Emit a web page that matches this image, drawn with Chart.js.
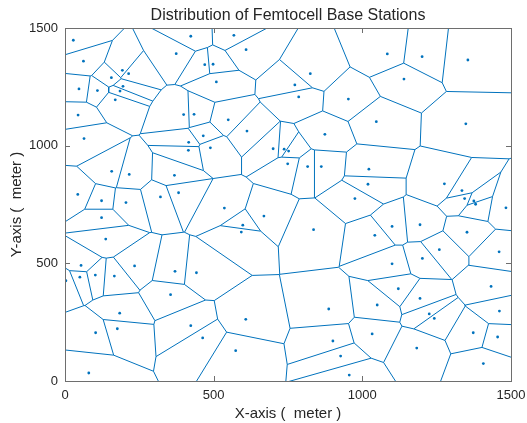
<!DOCTYPE html>
<html><head><meta charset="utf-8">
<script src="https://cdn.jsdelivr.net/npm/chart.js@4"></script>
<style>html,body{margin:0;padding:0;background:#fff}#wrap{width:527px;height:423px}</style>
</head><body><div id="wrap"><canvas id="c" width="527" height="423"></canvas></div>
<script>
// Femtocell base station positions (meters)
const siteX = [28,423,374,62,470,498,193,214,156,195,185,47,109,169,44,399,434,64,416,465,
  568,609,825,509,773,786,953,549,612,874,1084,1201,1355,1140,1047,1348,415,157,216,368,
  43,382,321,123,205,123,137,54,234,489,700,737,752,749,816,862,536,669,975,598,
  593,836,1022,1019,1276,1335,1344,1375,1381,1483,1100,1194,1042,1352,1259,1460,1202,1100,50,102,
  166,3,370,442,355,184,423,103,176,463,80,608,887,574,901,927,956,1121,1433,1194,
  1050,1461,1225,1242,1033,1373,1455,1183,1407];
const siteY = [1448,1465,1391,1359,1344,1346,1320,1306,1289,1252,1232,1241,1234,1195,1130,1132,1133,1030,1014,1042,
  1469,1408,1306,1271,1258,1207,1198,1110,1062,1048,1390,1378,1364,1283,1102,1093,980,891,878,874,
  793,800,782,766,758,694,603,491,489,991,987,985,977,923,911,911,735,701,775,662,
  633,643,900,836,838,809,775,765,751,736,657,664,619,632,558,549,521,498,441,450,
  446,426,466,460,367,288,235,205,222,183,34,262,306,129,170,106,25,392,402,351,
  323,297,285,266,200,205,187,140,74];
const xTicks = [0, 500, 1000, 1500];
const yTicks = [0, 500, 1000, 1500];
const titleText = 'Distribution of Femtocell Base Stations';
const xLabel = 'X-axis (  meter )';
const yLabel = 'Y-axis (  meter )';

// Voronoi edges computed from the sites (half-plane clipping)
function voronoiSegments(xs, ys, lo, hi) {
  const n = xs.length, segs = [];
  for (let i = 0; i < n; i++) {
    let poly = [{x:lo,y:lo,e:-1},{x:hi,y:lo,e:-1},{x:hi,y:hi,e:-1},{x:lo,y:hi,e:-1}];
    for (let j = 0; j < n; j++) {
      if (j === i) continue;
      const dx = xs[j]-xs[i], dy = ys[j]-ys[i];
      const mx = (xs[i]+xs[j])/2, my = (ys[i]+ys[j])/2;
      const f = p => (p.x-mx)*dx + (p.y-my)*dy;
      const out = [];
      for (let k = 0; k < poly.length; k++) {
        const A = poly[k], B = poly[(k+1)%poly.length];
        const fa = f(A), fb = f(B);
        if (fa <= 0) {
          out.push(A);
          if (fb > 0) { const t = fa/(fa-fb); out.push({x:A.x+t*(B.x-A.x), y:A.y+t*(B.y-A.y), e:j}); }
        } else if (fb <= 0) {
          const t = fa/(fa-fb); out.push({x:A.x+t*(B.x-A.x), y:A.y+t*(B.y-A.y), e:A.e});
        }
      }
      poly = out;
      if (!poly.length) break;
    }
    for (let k = 0; k < poly.length; k++) {
      const P = poly[k], Q = poly[(k+1)%poly.length];
      if (P.e > i) { segs.push({x:P.x,y:P.y},{x:Q.x,y:Q.y},{x:null,y:null}); }
    }
  }
  return segs;
}
const edgeData = voronoiSegments(siteX, siteY, -20000, 21500);
const siteData = siteX.map((x, i) => ({x, y: siteY[i]}));

const BLUE = '#0072BD', TXT = '#262626', FONT = "'Liberation Sans', Arial, Helvetica, sans-serif";

const frame = {
  id: 'frame',
  afterDatasetsDraw(chart) {
    const {ctx, chartArea: a, scales} = chart;
    ctx.save();
    ctx.strokeStyle = '#6e6e6e'; ctx.lineWidth = 1;
    ctx.strokeRect(Math.round(a.left)+0.5, Math.round(a.top)+0.5, Math.round(a.right-a.left), Math.round(a.bottom-a.top));
    const L = 5;
    ctx.beginPath();
    xTicks.forEach(v => {
      const px = Math.round(scales.x.getPixelForValue(v)) + 0.5;
      ctx.moveTo(px, a.bottom); ctx.lineTo(px, a.bottom - L);
      ctx.moveTo(px, a.top); ctx.lineTo(px, a.top + L);
    });
    yTicks.forEach(v => {
      const py = Math.round(scales.y.getPixelForValue(v)) + 0.5;
      ctx.moveTo(a.left, py); ctx.lineTo(a.left + L, py);
      ctx.moveTo(a.right, py); ctx.lineTo(a.right - L, py);
    });
    ctx.stroke();
    ctx.restore();
  }
};

const chart = new Chart(document.getElementById('c'), {
  type: 'scatter',
  data: { datasets: [
    { data: siteData, pointRadius: 1.4, pointBackgroundColor: BLUE, pointBorderWidth: 0, showLine: false, order: 1 },
    { data: edgeData, showLine: true, spanGaps: false, pointRadius: 0, pointHoverRadius: 0, borderColor: BLUE, borderWidth: 1, fill: false, order: 2 }
  ]},
  options: {
    responsive: false, animation: false, events: [],
    layout: { padding: { left: 0, right: 16, top: 0, bottom: 0 } },
    plugins: {
      legend: { display: false }, tooltip: { enabled: false },
      title: { display: true, text: titleText, fullSize: false, color: TXT,
        font: { family: FONT, size: 16, weight: 'normal', lineHeight: 1.2 }, padding: { top: 6, bottom: 2.8 } }
    },
    scales: {
      x: { type: 'linear', position: 'bottom', min: 0, max: 1500,
        afterBuildTicks: s => { s.ticks = xTicks.map(v => ({value: v})); },
        afterFit: s => { s.height = 42; s.paddingRight = 0; },
        grid: { display: false, drawTicks: false }, border: { display: false },
        ticks: { color: TXT, font: { family: FONT, size: 13 }, padding: 7, maxRotation: 0, callback: v => String(v) },
        title: { display: true, text: xLabel, color: TXT, font: { family: FONT, size: 15 }, padding: { top: 0, bottom: 0 } } },
      y: { type: 'linear', position: 'left', min: 0, max: 1500,
        afterBuildTicks: s => { s.ticks = yTicks.map(v => ({value: v})); },
        afterFit: s => { s.width = 65; },
        grid: { display: false, drawTicks: false }, border: { display: false },
        ticks: { color: TXT, font: { family: FONT, size: 13 }, padding: 7, callback: v => String(v) },
        title: { display: true, text: yLabel, color: TXT, font: { family: FONT, size: 15 }, padding: { top: 8, bottom: 0 } } }
    }
  },
  plugins: [frame]
});
</script></body></html>
